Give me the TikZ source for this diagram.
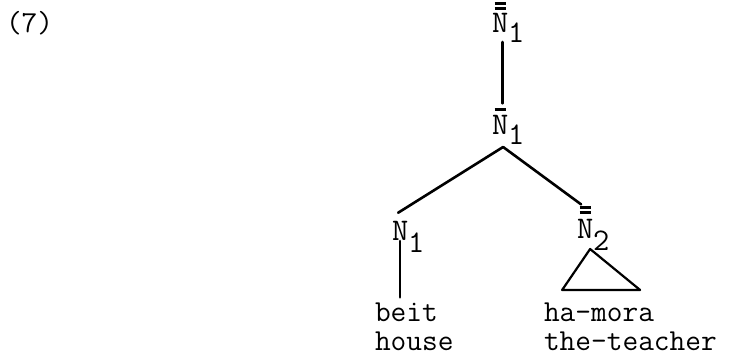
\documentclass[tikz,border=0pt]{standalone}
\usepackage{fontspec}
\newcommand\tw{\fontsize{31.5}{30}\selectfont\ttfamily}
\newcommand\twx{\fontsize{30.5}{29}\selectfont\ttfamily}
\newcommand\sbar[1]{\rlap{\kern2.5pt\raisebox{#1}{\rule{11pt}{2.6pt}}}}
\newcommand\subs[2]{\rlap{\smash{\raisebox{-#1}{#2}}}}
\begin{document}
\begin{tikzpicture}[x=1pt,y=-1pt,
  cat/.style={inner sep=0pt, outer sep=0pt, anchor=base west, font=\tw},
  word/.style={inner sep=0pt, outer sep=0pt, anchor=base west, font=\twx},
  branch/.style={line width=2.6pt, line cap=round},
  tri/.style={line width=2.2pt, line join=round}]
\useasboundingbox (0,0) rectangle (730,358);
\node[word] (ex) at (6,33) {(7)};
\node[cat] (t) at (492,33) {\sbar{23pt}\sbar{28pt}N\subs{10pt}{1}};
\node[cat] (m) at (492,135) {\sbar{24pt}N\subs{10pt}{1}};
\node[cat] (l) at (392,240) {N\subs{12pt}{1}};
\node[cat] (r) at (577,238) {\sbar{24pt}\sbar{29pt}N\subs{12pt}{2}};
\node[word] (b1) at (375,321) {beit};
\node[word] (b2) at (375,350) {house};
\node[word] (h1) at (544,321) {ha-mora};
\node[word] (h2) at (544,350) {the-teacher};
\coordinate (mfoot) at ([xshift=3pt,yshift=-12pt]m.south);
\coordinate (lend) at ([xshift=-2pt,yshift=8pt]l.north);
\coordinate (rend) at ([xshift=-4pt,yshift=2pt]r.north);
\coordinate (rfoot) at ([xshift=5pt,yshift=-11pt]r.south);
\draw[branch, shorten <=9pt, shorten >=5pt] ([xshift=2.5pt]t.south) -- ([xshift=2.5pt]m.north);
\draw[branch] (mfoot) -- (lend);
\draw[branch] (mfoot) -- (rend);
\draw[branch, shorten <=1pt, shorten >=5pt] (l.south) -- (l.south |- b1.north);
\draw[tri] (rfoot) -- ++(-28,41) -- ++(78,0) -- cycle;
\end{tikzpicture}
\end{document}
